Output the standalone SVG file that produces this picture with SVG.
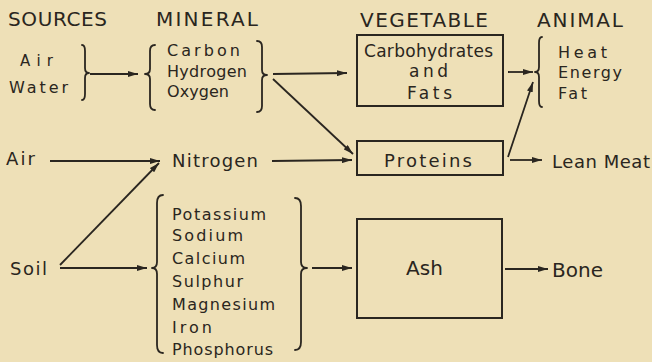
<svg xmlns="http://www.w3.org/2000/svg" width="652" height="362" viewBox="0 0 652 362">
<defs>
<style>
text{font-family:"DejaVu Sans","Liberation Sans",Arial,sans-serif;fill:#2a2620}
.h{font-size:20px}
.s{font-size:16px}
.m{font-size:18px}
.l{font-size:20px}
.ln{stroke:#2a2620;stroke-width:1.8;fill:none}
.br{stroke:#2a2620;stroke-width:1.8;fill:none;stroke-linecap:round;stroke-linejoin:round}
.bx{stroke:#2a2620;stroke-width:2;fill:none}
</style>
<marker id="ah" viewBox="0 0 10 6" refX="10" refY="3" markerWidth="10" markerHeight="6" markerUnits="userSpaceOnUse" orient="auto">
<path d="M0,0 L10,3 L0,6 Z" fill="#2a2620"/>
</marker>
</defs>
<rect width="652" height="362" fill="#eee0b7"/>

<g id="headers">
<text class="h" x="8" y="26" textLength="99" lengthAdjust="spacing">SOURCES</text>
<text class="h" x="156" y="26" textLength="102" lengthAdjust="spacing">MINERAL</text>
<text class="h" x="360" y="27" textLength="128" lengthAdjust="spacing">VEGETABLE</text>
<text class="h" x="537" y="27" textLength="86" lengthAdjust="spacing">ANIMAL</text>
</g>

<g id="src-air-water">
<text x="20" y="66" font-size="15" textLength="33" lengthAdjust="spacing">Air</text>
<text class="s" x="9" y="93" textLength="59" lengthAdjust="spacing">Water</text>
<path class="br" d="M82,45 Q85,45 85,51 L85,68 Q85,73 89,73 Q85,73 85,78 L85,94 Q85,100 82,100"/>
</g>

<g id="mineral-chon">
<path class="br" d="M155,45 Q150,45 150,51 L150,69 Q150,74 145,74 Q150,74 150,79 L150,104 Q150,110 155,110"/>
<text class="s" x="167" y="56" textLength="73" lengthAdjust="spacing">Carbon</text>
<text class="s" x="167" y="76.5" textLength="80" lengthAdjust="spacing">Hydrogen</text>
<text class="s" x="167" y="97" textLength="62" lengthAdjust="spacing">Oxygen</text>
<path class="br" d="M257,41 Q262,41 262,47 L262,70 Q262,75 267,75 Q262,75 262,80 L262,106 Q262,112 257,112"/>
</g>

<g id="veg-carbohydrates">
<rect class="bx" x="357" y="35" width="146" height="71"/>
<text x="364" y="57" font-size="17" textLength="129" lengthAdjust="spacing">Carbohydrates</text>
<text x="409" y="77" font-size="17" textLength="39" lengthAdjust="spacing">and</text>
<text x="407" y="99" font-size="17" textLength="45" lengthAdjust="spacing">Fats</text>
</g>

<g id="animal-heat">
<path class="br" d="M542,37 Q539,37 539,43 L539,67 Q539,72 535,72 Q539,72 539,77 L539,101 Q539,107 542,107"/>
<text class="s" x="558" y="58" textLength="49" lengthAdjust="spacing">Heat</text>
<text class="s" x="558" y="78" textLength="64" lengthAdjust="spacing">Energy</text>
<text class="s" x="558" y="99" textLength="29" lengthAdjust="spacing">Fat</text>
</g>

<g id="src-air">
<text class="m" x="6" y="165" textLength="29" lengthAdjust="spacing">Air</text>
</g>

<g id="mineral-nitrogen">
<text class="m" x="172" y="167" textLength="86" lengthAdjust="spacing">Nitrogen</text>
</g>

<g id="veg-proteins">
<rect class="bx" x="357" y="141" width="146" height="34"/>
<text class="m" x="384" y="167" textLength="88" lengthAdjust="spacing">Proteins</text>
</g>

<g id="animal-lean-meat">
<text class="m" x="552" y="168" textLength="98" lengthAdjust="spacing">Lean Meat</text>
</g>

<g id="src-soil">
<text class="m" x="10" y="275" textLength="37" lengthAdjust="spacing">Soil</text>
</g>

<g id="mineral-salts">
<path class="br" d="M163,195 Q157,195 157,203 L157,262 Q157,268 152,268 Q157,268 157,274 L157,345 Q157,353 163,353"/>
<text class="s" x="172" y="220" textLength="94" lengthAdjust="spacing">Potassium</text>
<text class="s" x="172" y="241" textLength="71" lengthAdjust="spacing">Sodium</text>
<text class="s" x="172" y="263.5" textLength="73" lengthAdjust="spacing">Calcium</text>
<text class="s" x="172" y="287" textLength="71" lengthAdjust="spacing">Sulphur</text>
<text class="s" x="172" y="309.5" textLength="103" lengthAdjust="spacing">Magnesium</text>
<text class="s" x="172" y="333" textLength="40" lengthAdjust="spacing">Iron</text>
<text class="s" x="172" y="355" textLength="101" lengthAdjust="spacing">Phosphorus</text>
<path class="br" d="M295,198 Q301,198 301,206 L301,262 Q301,268 307,268 Q301,268 301,274 L301,342 Q301,350 295,350"/>
</g>

<g id="veg-ash">
<rect class="bx" x="357" y="219" width="145" height="99"/>
<text class="l" x="406" y="275" textLength="37" lengthAdjust="spacing">Ash</text>
</g>

<g id="animal-bone">
<text class="l" x="552" y="277" textLength="51" lengthAdjust="spacing">Bone</text>
</g>

<g id="connectors">
<line class="ln" x1="90" y1="74" x2="138" y2="74" marker-end="url(#ah)"/>
<line class="ln" x1="273" y1="74" x2="347" y2="73" marker-end="url(#ah)"/>
<line class="ln" x1="273" y1="79" x2="353" y2="154" marker-end="url(#ah)"/>
<line class="ln" x1="508" y1="72" x2="533" y2="72" marker-end="url(#ah)"/>
<line class="ln" x1="508" y1="157" x2="533" y2="82" marker-end="url(#ah)"/>
<line class="ln" x1="50" y1="161" x2="160" y2="161" marker-end="url(#ah)"/>
<line class="ln" x1="272" y1="161" x2="352" y2="160" marker-end="url(#ah)"/>
<line class="ln" x1="60" y1="265" x2="159" y2="163" marker-end="url(#ah)"/>
<line class="ln" x1="60" y1="268" x2="147" y2="268" marker-end="url(#ah)"/>
<line class="ln" x1="312" y1="268" x2="352" y2="268" marker-end="url(#ah)"/>
<line class="ln" x1="510" y1="160" x2="542" y2="160" marker-end="url(#ah)"/>
<line class="ln" x1="505" y1="269" x2="548" y2="269" marker-end="url(#ah)"/>
</g>
</svg>
